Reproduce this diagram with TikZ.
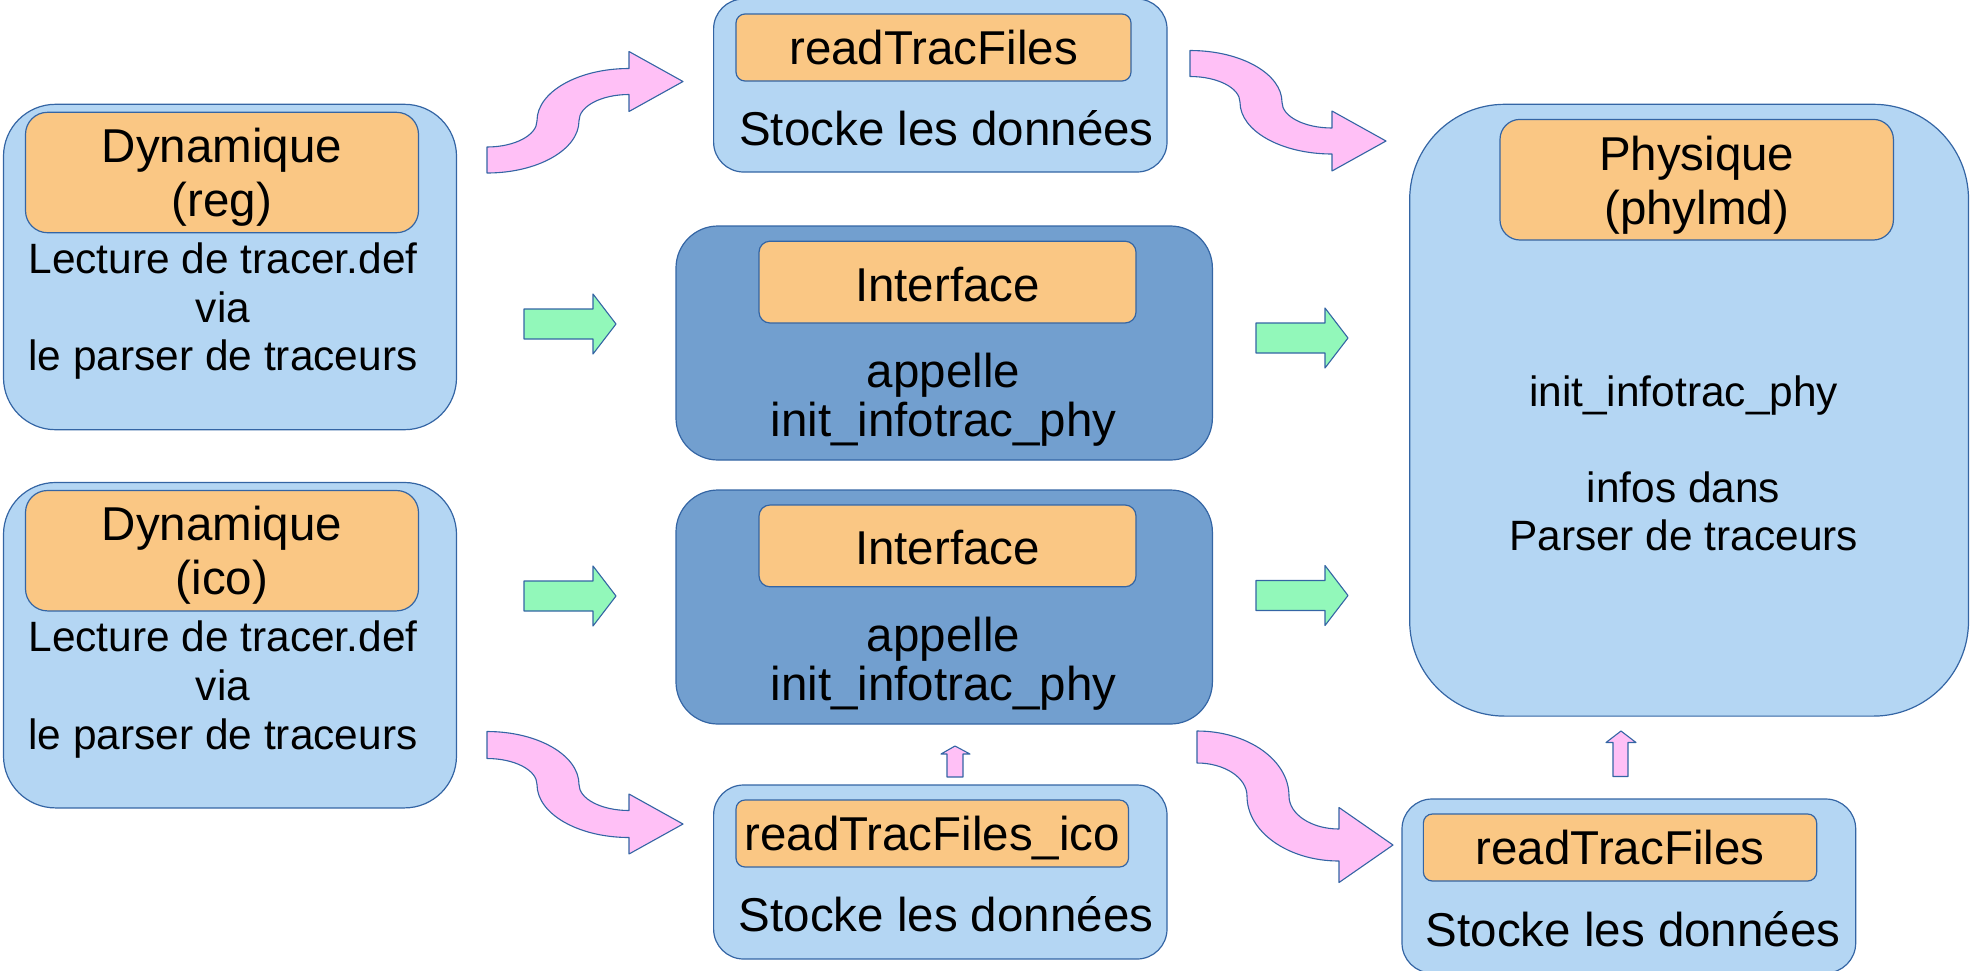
\documentclass[tikz,border=0pt]{standalone}
\usepackage{fontspec}
\setmainfont{Liberation Sans}
\definecolor{lblue}{RGB}{180,214,243}
\definecolor{dblue}{RGB}{114,159,207}
\definecolor{orng}{RGB}{250,199,132}
\definecolor{pnk}{RGB}{255,192,246}
\definecolor{grn}{RGB}{146,248,186}
\definecolor{edgec}{RGB}{52,101,164}
\tikzset{
  outerbox/.style={draw=edgec, line width=1.2pt, fill=lblue, inner sep=0pt},
  darkbox/.style={draw=edgec, line width=1.2pt, fill=dblue, inner sep=0pt},
  headbox/.style={draw=edgec, line width=1.2pt, fill=orng, inner sep=0pt},
  bigtxt/.style={font=\fontsize{47.5}{54.6}\selectfont, anchor=base, inner sep=0pt},
  smalltxt/.style={font=\fontsize{42.4}{48.8}\selectfont, anchor=base, inner sep=0pt},
  pinkarrow/.style={draw=edgec, line width=1.1pt, fill=pnk, line join=round},
  greenarrow/.style={draw=edgec, line width=1.1pt, fill=grn, line join=round},
}
\newcommand\SArrowRise[5]{%
  \pgfmathsetmacro\sAym{#2-#3/2}%
  \pgfmathsetmacro\sAri{#3/2-#4/2}%
  \pgfmathsetmacro\sAro{#3/2+#4/2}%
  \pgfmathsetmacro\sAxe{#1+142}%
  \pgfmathsetmacro\sAyh{#2-#3}%
  \draw[pinkarrow] (#1,#2-#4/2)
    arc[start angle=90,end angle=0,x radius=50,y radius=\sAri]
    arc[start angle=180,end angle=270,x radius=92,y radius=\sAro]
    -- (\sAxe,\sAyh-#5) -- (\sAxe+54,\sAyh) -- (\sAxe,\sAyh+#5) -- (\sAxe,\sAyh+#4/2)
    arc[start angle=270,end angle=180,x radius=50,y radius=\sAri]
    arc[start angle=0,end angle=90,x radius=92,y radius=\sAro]
    -- cycle;}
\newcommand\SArrowFall[5]{%
  \pgfmathsetmacro\sAri{#3/2-#4/2}%
  \pgfmathsetmacro\sAro{#3/2+#4/2}%
  \pgfmathsetmacro\sAxe{#1+142}%
  \pgfmathsetmacro\sAyh{#2+#3}%
  \draw[pinkarrow] (#1,#2-#4/2)
    arc[start angle=270,end angle=360,x radius=92,y radius=\sAro]
    arc[start angle=180,end angle=90,x radius=50,y radius=\sAri]
    -- (\sAxe,\sAyh-#5) -- (\sAxe+54,\sAyh) -- (\sAxe,\sAyh+#5) -- (\sAxe,\sAyh+#4/2)
    arc[start angle=90,end angle=180,x radius=92,y radius=\sAro]
    arc[start angle=0,end angle=-90,x radius=50,y radius=\sAri]
    -- cycle;}
\begin{document}
\begin{tikzpicture}[x=1pt,y=-1pt]
\useasboundingbox (0,0) rectangle (1970,970);
\clip (0,0) rectangle (1970,970);
% ---------- Dynamique (reg)
\node[outerbox, rounded corners=52pt, minimum width=453pt, minimum height=325.4pt] (dynreg) at (230,267) {};
\node[headbox, rounded corners=22pt, minimum width=393pt, minimum height=120.4pt] (dynregh) at (222,172.5) {};
\node[bigtxt] (dynregh1) at (222,162.7) {Dynamique};
\node[bigtxt] (dynregh2) at (222,216.7) {(reg)};
\node[smalltxt] (dynregb1) at (223,273.3) {Lecture de tracer.def};
\node[smalltxt] (dynregb2) at (223,322.1) {via};
\node[smalltxt] (dynregb3) at (223,370.9) {le parser de traceurs};
% ---------- Dynamique (ico)
\node[outerbox, rounded corners=52pt, minimum width=453pt, minimum height=325.4pt] (dynico) at (230,645.2) {};
\node[headbox, rounded corners=22pt, minimum width=393pt, minimum height=120.4pt] (dynicoh) at (222,550.7) {};
\node[bigtxt] (dynicoh1) at (222,540.9) {Dynamique};
\node[bigtxt] (dynicoh2) at (222,594.9) {(ico)};
\node[smalltxt] (dynicob1) at (223,651.5) {Lecture de tracer.def};
\node[smalltxt] (dynicob2) at (223,700.3) {via};
\node[smalltxt] (dynicob3) at (223,749.1) {le parser de traceurs};
% ---------- readTracFiles (top)
\node[outerbox, rounded corners=30pt, minimum width=453.4pt, minimum height=173pt] (rtf) at (940.3,85.5) {};
\node[headbox, rounded corners=9pt, minimum width=395pt, minimum height=67pt] (rtfh) at (933.5,47.5) {};
\node[bigtxt] (rtfh1) at (933.5,64.7) {readTracFiles};
\node[bigtxt] (rtfb1) at (946.5,145) {Stocke les données};
% ---------- Interface 1
\node[darkbox, rounded corners=42pt, minimum width=536.4pt, minimum height=234pt] (intA) at (944.2,343) {};
\node[headbox, rounded corners=11pt, minimum width=377pt, minimum height=81.8pt] (intAh) at (947.5,282.1) {};
\node[bigtxt] (intAh1) at (947.5,301) {Interface};
\node[bigtxt] (intAb1) at (943.5,387.9) {appelle};
\node[bigtxt] (intAb2) at (943.5,436.9) {init\_infotrac\_phy};
% ---------- Interface 2
\node[darkbox, rounded corners=42pt, minimum width=536.4pt, minimum height=234pt] (intB) at (944.2,607) {};
\node[headbox, rounded corners=11pt, minimum width=377pt, minimum height=81.8pt] (intBh) at (947.5,545.9) {};
\node[bigtxt] (intBh1) at (947.5,564.8) {Interface};
\node[bigtxt] (intBb1) at (943.5,651.7) {appelle};
\node[bigtxt] (intBb2) at (943.5,700.7) {init\_infotrac\_phy};
% ---------- readTracFiles_ico
\node[outerbox, rounded corners=30pt, minimum width=453.4pt, minimum height=174pt] (rtfi) at (940.3,872) {};
\node[headbox, rounded corners=9pt, minimum width=392.5pt, minimum height=67pt] (rtfih) at (932.25,833.5) {};
\node[bigtxt] (rtfih1) at (932.25,850.7) {readTracFiles\_ico};
\node[bigtxt] (rtfib1) at (946,931) {Stocke les données};
% ---------- Physique
\node[outerbox, rounded corners=95pt, minimum width=558.8pt, minimum height=611.8pt] (phys) at (1689.1,410.2) {};
\node[headbox, rounded corners=20pt, minimum width=393.4pt, minimum height=120.6pt] (physh) at (1696.7,179.7) {};
\node[bigtxt] (physh1) at (1696.7,170.2) {Physique};
\node[bigtxt] (physh2) at (1696.7,224.2) {(phylmd)};
\node[smalltxt] (physb1) at (1683.6,406) {init\_infotrac\_phy};
\node[smalltxt] (physb2) at (1683.6,502) {infos dans};
\node[smalltxt] (physb3) at (1683.6,550) {Parser de traceurs};
% ---------- readTracFiles (bottom right)
\node[outerbox, rounded corners=30pt, minimum width=453.7pt, minimum height=174pt] (rtfp) at (1628.85,886) {};
\node[headbox, rounded corners=9pt, minimum width=393.3pt, minimum height=67pt] (rtfph) at (1620,847.5) {};
\node[bigtxt] (rtfph1) at (1620,864.7) {readTracFiles};
\node[bigtxt] (rtfpb1) at (1633,946) {Stocke les données};
% ---------- green arrows
\draw[greenarrow] (524,309) -- (593,309) -- (593,294) -- (616,324) -- (593,354) -- (593,339) -- (524,339) -- cycle;
\draw[greenarrow] (524,581) -- (593,581) -- (593,566) -- (616,596) -- (593,626) -- (593,611) -- (524,611) -- cycle;
\draw[greenarrow] (1256,323) -- (1325,323) -- (1325,308) -- (1348,338) -- (1325,368) -- (1325,353) -- (1256,353) -- cycle;
\draw[greenarrow] (1256,580.5) -- (1325,580.5) -- (1325,565.5) -- (1348,595.5) -- (1325,625.5) -- (1325,610.5) -- (1256,610.5) -- cycle;
% ---------- small up arrows
\draw[pinkarrow] (947,777) -- (947,754) -- (941,754) -- (955,746) -- (970,754) -- (963,754) -- (963,777) -- cycle;
\draw[pinkarrow] (1613,776.5) -- (1613,742.5) -- (1606,742.5) -- (1621,731) -- (1636,742.5) -- (1628,742.5) -- (1628,776.5) -- cycle;
% ---------- pink S arrows
\SArrowRise{487}{160}{78.5}{26}{30}
\SArrowFall{1190}{63.5}{77.5}{26}{30}
\SArrowFall{487}{745}{79}{27}{30}
\SArrowFall{1197}{747}{98}{32}{37.5}
\end{tikzpicture}
\end{document}
